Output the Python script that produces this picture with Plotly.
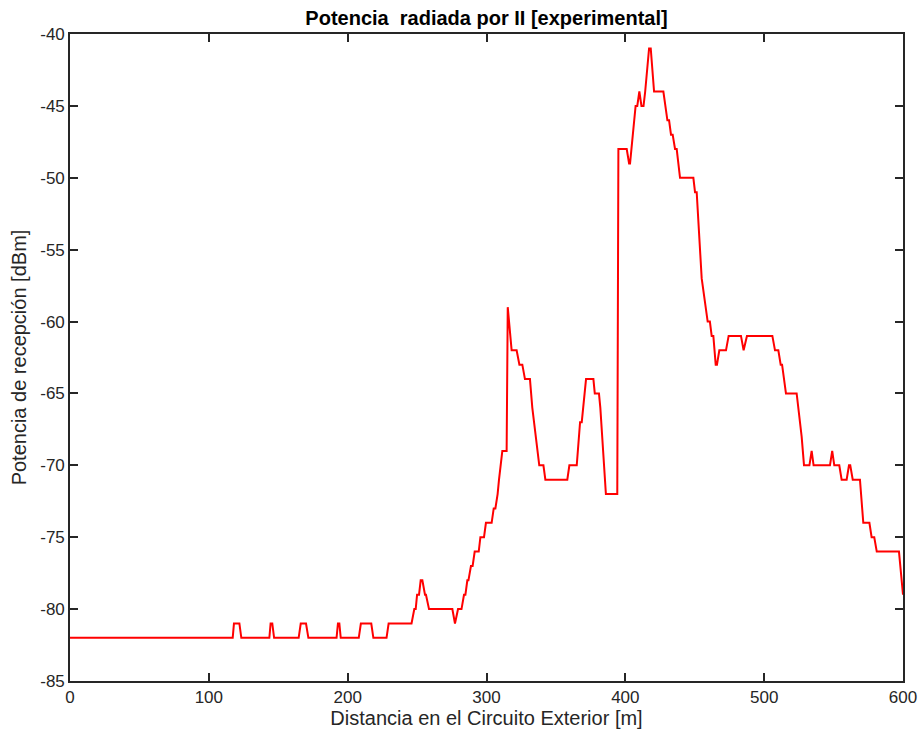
import plotly.graph_objects as go

distancia_m = [
    0, 117.2, 118.1, 122, 123.4, 143.6, 144.5, 145.7, 147, 164.7, 166.2, 170, 171.7,
    192, 193, 194, 195, 208, 209.5, 217, 218.5, 228, 229.5, 246, 248, 249, 250, 251.4,
    252.6, 253.8, 255.7, 256.4, 258.6, 275.4, 277.3, 279.5, 282, 283.8, 284.8, 286.2,
    287, 288.8, 290, 291.5, 294.4, 295.6, 298.2, 299.6, 303.7, 305.2, 306.4, 308, 309,
    310, 311.4, 314.5, 315.3, 318.1, 321.7, 323.7, 325.8, 327.7, 331.3, 333, 335.7,
    338, 341, 342.4, 358.2, 359.7, 365, 367.4, 368.6, 371.7, 377, 378, 381, 382, 384,
    386, 394.2, 395, 401, 402.7, 403.4, 406.5, 407.4, 408.6, 410.1, 411.6, 413.1,
    414.3, 417.1, 418.3, 420.7, 427.4, 430.3, 431.5, 432.9, 434.1, 435.8, 437, 439.4,
    449, 450.2, 451.4, 455, 459.3, 460.9, 462.2, 463.4, 465.1, 466, 467.7, 472.5,
    474.4, 483.3, 485.2, 487.6, 505.9, 507.8, 510.2, 511.9, 512.9, 515.7, 523.4, 527,
    528.7, 532.6, 534.2, 535.6, 547.4, 549, 550.5, 554.1, 555.8, 559.4, 561.1, 562,
    563.8, 569, 571.4, 575.8, 577.4, 579.3, 581.1, 597.1, 600,
]
potencia_dbm = [
    -82, -82, -81, -81, -82, -82, -81, -81, -82, -82, -81, -81, -82,
    -82, -81, -81, -82, -82, -81, -81, -82, -82, -81, -81, -80, -80, -79, -79,
    -78, -78, -79, -79, -80, -80, -81, -80, -80, -79, -79, -78,
    -78, -77, -77, -76, -76, -75, -75, -74, -74, -73, -73, -72, -71,
    -70, -69, -69, -59, -62, -62, -63, -63, -64, -64, -66, -68,
    -70, -70, -71, -71, -70, -70, -67, -67, -64, -64, -65, -65, -66, -69,
    -72, -72, -48, -48, -49, -49, -46, -45, -45, -44, -45, -45,
    -44, -41, -41, -44, -44, -46, -46, -47, -47, -48, -48, -50,
    -50, -51, -51, -57, -60, -60, -61, -61, -63, -63, -62, -62,
    -61, -61, -62, -61, -61, -62, -62, -63, -63, -65, -65, -68,
    -70, -70, -69, -70, -70, -69, -70, -70, -71, -71, -70, -70,
    -71, -71, -74, -74, -75, -75, -76, -76, -79,
]

x_ticks = [0, 100, 200, 300, 400, 500, 600]
x_tick_labels = ["0", "100", "200", "300", "400", "500", "600"]
y_ticks = [-40, -45, -50, -55, -60, -65, -70, -75, -80, -85]
y_tick_labels = ["-40", "-45", "-50", "-55", "-60", "-65", "-70", "-75", "-80", "-85"]

titulo = "<b>Potencia  radiada por II [experimental]</b>"
etiqueta_x = "Distancia en el Circuito Exterior [m]"
etiqueta_y = "Potencia de recepción [dBm]"

FONT = "Liberation Sans, Arial, Helvetica, sans-serif"
AX = "#262626"

fig = go.Figure()
fig.add_trace(go.Scatter(
    x=distancia_m, y=potencia_dbm, mode="lines",
    line=dict(color="#ff0000", width=2), showlegend=False,
))

axis_common = dict(
    showline=True, linecolor=AX, linewidth=1.6, mirror="ticks",
    ticks="inside", ticklen=8, tickwidth=1.6, tickcolor=AX,
    showgrid=False, zeroline=False, automargin=False,
    tickfont=dict(family=FONT, size=17, color=AX),
)

fig.update_layout(
    width=922, height=731,
    margin=dict(l=70, r=19, t=34, b=50),
    paper_bgcolor="white", plot_bgcolor="white",
    title=dict(text=titulo, x=(70 + 903) / 2 / 922, xanchor="center", xref="container",
               y=1 - 18 / 731, yref="container", yanchor="middle",
               font=dict(family=FONT, size=20, color="black")),
    xaxis=dict(range=[0, 600], tickvals=x_ticks, ticktext=x_tick_labels, **axis_common,
               title=dict(text=etiqueta_x, standoff=5,
                          font=dict(family=FONT, size=20, color=AX))),
    yaxis=dict(range=[-85, -40], tickvals=y_ticks, ticktext=y_tick_labels, **axis_common,
               title=dict(text=etiqueta_y, standoff=8,
                          font=dict(family=FONT, size=20, color=AX))),
)

fig.write_html("out.html")
